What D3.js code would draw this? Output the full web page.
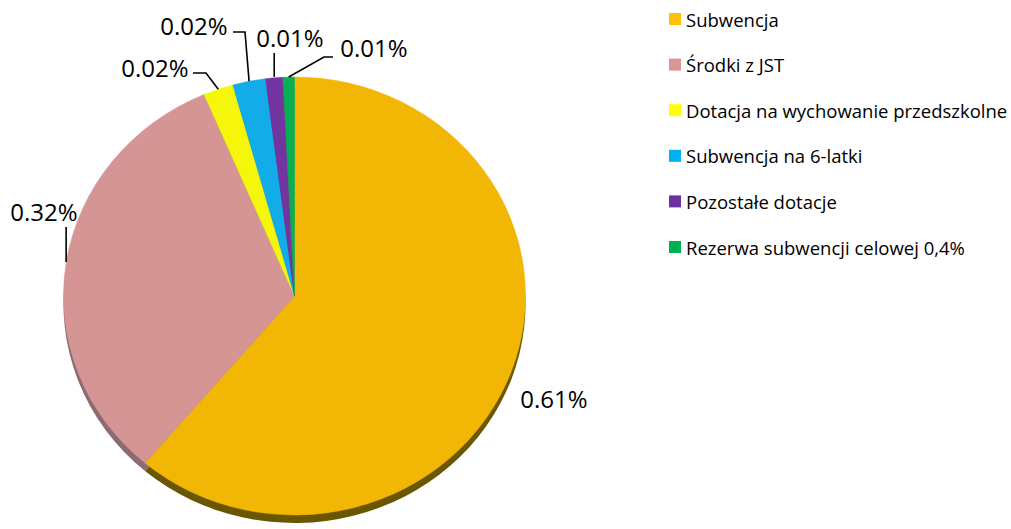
<!DOCTYPE html>
<html>
<head>
<meta charset="utf-8">
<script src="https://cdn.jsdelivr.net/npm/d3@7"></script>
<style>
  body { margin: 0; background: #fff; }
  text { font-family: "Open Sans", sans-serif; fill: #000; }
</style>
</head>
<body>
<div id="chart"></div>
<script>
// data (share of total, percent)
const categories = ["Subwencja", "Środki z JST", "Dotacja na wychowanie przedszkolne",
    "Subwencja na 6-latki", "Pozostałe dotacje", "Rezerwa subwencji celowej 0,4%"];
const values = [61.2, 32.4, 2.1, 2.3, 1.2, 0.8];
const topColors = ["#F2B705", "#D49594", "#F6F60A", "#12ACE8", "#7434A0", "#0CAE52"];
const legendColors = ["#FFC000", "#D99694", "#FFFF00", "#00B0F0", "#7030A0", "#00B050"];
const sideColors = ["#6B5600", "#8C6B74", "#8A8A00", "#0A6A8E", "#40185E", "#066630"];

// label text positions (layout) and leader style per slice
const labelPos = [
    {x: 554, y: 398, leader: null},
    {x: 44, y: 211, leader: "vertical"},
    {x: 155, y: 67, leader: [[193, 73], [206, 73]]},
    {x: 194, y: 25, leader: [[233, 32], [245, 32]]},
    {x: 290, y: 37, leader: "vertical"},
    {x: 374, y: 47, leader: [[333, 57], [324, 57]]}
];

const width = 1011, height = 529;
const cx = 294.5, cy = 296, rx = 231, ry = 219, depth = 8;

const svg = d3.select("#chart")
    .append("svg")
    .attr("width", width)
    .attr("height", height);

const data = categories.map((c, i) => ({name: c, value: values[i], i: i}));

const pie = d3.pie()
    .value(d => d.value)
    .sort(null);

const arcs = pie(data);

const arc = d3.arc()
    .innerRadius(0)
    .outerRadius(rx);

// point on the elliptical edge for an angle (0 = top, clockwise)
function edgePoint(a) {
    return [cx + rx * Math.sin(a), cy - ry * Math.cos(a)];
}

// side of the tilted pie
svg.append("g")
    .attr("transform", `translate(${cx},${cy + depth}) scale(1,${ry / rx})`)
    .selectAll("path")
    .data(arcs)
    .enter()
    .append("path")
    .attr("d", arc)
    .attr("fill", d => sideColors[d.data.i]);

// top face
svg.append("g")
    .attr("transform", `translate(${cx},${cy}) scale(1,${ry / rx})`)
    .selectAll("path")
    .data(arcs)
    .enter()
    .append("path")
    .attr("d", arc)
    .attr("fill", d => topColors[d.data.i])
    .attr("stroke", d => topColors[d.data.i])
    .attr("stroke-width", 0.5);

// labels
const fmt = d3.format(".2f");
const labels = svg.append("g");

arcs.forEach(d => {
    const p = labelPos[d.data.i];
    const mid = (d.startAngle + d.endAngle) / 2;
    const end = edgePoint(mid);

    labels.append("text")
        .attr("x", p.x)
        .attr("y", p.y)
        .attr("text-anchor", "middle")
        .attr("dominant-baseline", "central")
        .style("font-size", "24px")
        .text(fmt(d.data.value / 100) + "%");

    if (p.leader === "vertical") {
        labels.append("line")
            .attr("x1", end[0]).attr("x2", end[0])
            .attr("y1", p.y + 16)
            .attr("y2", end[1] - 1)
            .attr("stroke", "#000")
            .attr("stroke-width", 1.6);
    } else if (p.leader) {
        const pts = p.leader.concat([end]);
        labels.append("path")
            .attr("d", d3.line()(pts))
            .attr("fill", "none")
            .attr("stroke", "#000")
            .attr("stroke-width", 1.6);
    }
});

// legend
const legend = svg.append("g")
    .attr("transform", "translate(669, 19)");

categories.forEach((n, i) => {
    const g = legend.append("g")
        .attr("transform", `translate(0, ${i * 45.6})`);

    g.append("rect")
        .attr("y", -6)
        .attr("width", 12)
        .attr("height", 12)
        .attr("fill", legendColors[i]);

    g.append("text")
        .attr("x", 17)
        .attr("y", 0)
        .attr("dominant-baseline", "central")
        .style("font-size", "18.5px")
        .text(n);
});
</script>
</body>
</html>
